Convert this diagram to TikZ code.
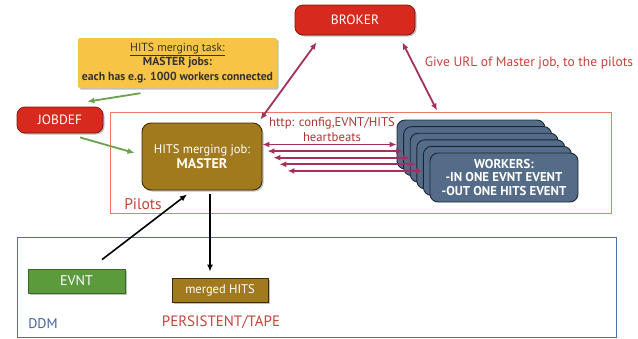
\documentclass[tikz,border=0pt]{standalone}
\usepackage{fontspec}
\setmainfont{PT Sans}
\usetikzlibrary{arrows.meta,shadows,calc}

\definecolor{boxred}{HTML}{D8291E}
\definecolor{boxredline}{HTML}{7A1A12}
\definecolor{taskyellow}{HTML}{F8C445}
\definecolor{jobbrown}{HTML}{A27A1E}
\definecolor{jobbrownline}{HTML}{3E2C08}
\definecolor{evntgreen}{HTML}{5C9B3C}
\definecolor{evntgreenline}{HTML}{3C6A26}
\definecolor{workerblue}{HTML}{546C87}
\definecolor{workerline}{HTML}{1C2633}
\definecolor{linkpurple}{HTML}{A3305E}
\definecolor{feedgreen}{HTML}{6AA24B}
\definecolor{labelred}{HTML}{C8413B}
\definecolor{pilotframe}{HTML}{EE7A66}
\definecolor{ddmframe}{HTML}{4A72BA}
\definecolor{ddmtext}{HTML}{41609A}

\tikzset{
  softshadow/.style={drop shadow={shadow xshift=1.5pt,shadow yshift=-1.5pt,fill=black,opacity=0.25}},
  anybox/.style={inner sep=0pt,align=center,anchor=center},
  redbox/.style={anybox,draw=boxredline,line width=0.8pt,fill=boxred,rounded corners=8pt,
    text=white,font=\fontsize{13.5}{15}\selectfont,softshadow},
  taskbox/.style={anybox,fill=taskyellow,rounded corners=1.5pt,text=black!80,
    font=\fontsize{11.7}{14.5}\selectfont,softshadow},
  masterbox/.style={anybox,draw=jobbrownline,line width=0.9pt,fill=jobbrown,rounded corners=9pt,
    text=white,font=\fontsize{12.5}{16}\selectfont,softshadow},
  workercard/.style={anybox,draw=workerline,line width=0.9pt,fill=workerblue,rounded corners=8pt,
    minimum width=148pt,minimum height=49pt,text=white,font=\bfseries\fontsize{12.8}{13.5}\selectfont},
  storebox/.style={anybox,line width=0.8pt,text=white,font=\fontsize{12.5}{14}\selectfont,softshadow},
  frame/.style={anybox,line width=1pt},
  plainlabel/.style={anybox,font=\fontsize{13}{14}\selectfont},
  tip/.style={},
  linkarrow/.style={draw=linkpurple,line width=1.8pt,{Latex[length=7pt,width=6pt]}-{Latex[length=7pt,width=6pt]}},
  feedarrow/.style={draw=feedgreen,line width=1.8pt,-{Latex[length=7pt,width=6pt]}},
  dataarrow/.style={draw=black,line width=1.6pt,-{Latex[length=7pt,width=6pt]}}
}

\begin{document}
\begin{tikzpicture}[x=1pt,y=-1pt]
  \useasboundingbox (0,0) rectangle (638,338);

  % frames
  \node[frame,draw=pilotframe,minimum width=501pt,minimum height=101pt] (pilots) at (360.5,162.5) {};
  \node[frame,draw=ddmframe,minimum width=599pt,minimum height=100pt] (ddm) at (316.5,287) {};

  % control boxes
  \node[redbox,minimum width=120pt,minimum height=30pt] (broker) at (355,20) {BROKER};
  \node[redbox,minimum width=86pt,minimum height=26pt] (jobdef) at (60,120) {JOBDEF};
  \node[taskbox,minimum width=199pt,minimum height=50pt] (task) at (177.5,63)
    {\underline{HITS merging task:}\\ \textbf{MASTER jobs:}\\ \textbf{each has e.g. 1000 workers connected}};

  % master job
  \node[masterbox,minimum width=120pt,minimum height=67pt] (master) at (202,156.5)
    {HITS merging job:\\[-1pt] {\bfseries\fontsize{14}{16}\selectfont MASTER}};

  % stack of worker cards, back to front
  \foreach \i in {0,...,4}
    \node[workercard] (w\i) at ({471+6.6*\i},{144.5+6.6*\i}) {};
  \node[workercard] (w5) at (504,177.5)
    {WORKERS:\\ -IN ONE EVNT EVENT\\ -OUT ONE HITS EVENT};

  % storage
  \node[storebox,draw=evntgreenline,fill=evntgreen,minimum width=97pt,minimum height=24pt,
    font=\fontsize{14}{15}\selectfont] (evnt) at (76.5,281) {EVNT};
  \node[storebox,draw=jobbrownline,fill=jobbrown,minimum width=96pt,minimum height=24pt] (merged) at (220,290) {merged HITS};

  % labels
  \node[plainlabel,text=labelred,font=\fontsize{15.5}{17}\selectfont] (pilotslabel) at (143,204) {Pilots};
  \node[plainlabel,text=ddmtext,font=\fontsize{14}{16}\selectfont] (ddmlabel) at (43,324) {DDM};
  \node[plainlabel,text=labelred,font=\fontsize{15}{16}\selectfont] (tape) at (221,322) {PERSISTENT/TAPE};
  \node[plainlabel,text=labelred,font=\fontsize{13.5}{15}\selectfont] (url) at (529,63) {Give URL of Master job, to the pilots};
  \node[plainlabel,text=labelred!85!black,font=\fontsize{12.7}{15}\selectfont] (http) at (332,129.5)
    {http: config,EVNT/HITS\\ heartbeats};

  % task definition flow
  \draw[feedarrow] ($(task.south)+(-37,5)$) -- ($(jobdef.north east)+(-16,-5)$);
  \draw[feedarrow] ($(jobdef.south)+(20,4)$) -- ($(master.west)+(-7,-3.5)$);

  % broker links
  \draw[linkarrow] ($(broker.south west)+(22,7)$) -- ($(master.north east)+(-2,-3)$);
  \draw[linkarrow] ($(broker.south east)+(-13,7)$) -- ($(pilots.north)+(76.5,-1)$);

  % master <-> workers traffic
  \foreach \i/\off in {0/0,1/5,2/11,3/17,4/25}
    \draw[linkarrow] ($(master.east |- w\i.west)+(\off,0)$) -- (w\i.west);

  % data flow
  \draw[dataarrow] ($(evnt.north)+(25.5,-9)$) -- ($(master.south)+(-15,4)$);
  \draw[dataarrow] ($(master.south)+(8,4)$) -- ($(merged.north)+(-10,-6)$);
\end{tikzpicture}
\end{document}
